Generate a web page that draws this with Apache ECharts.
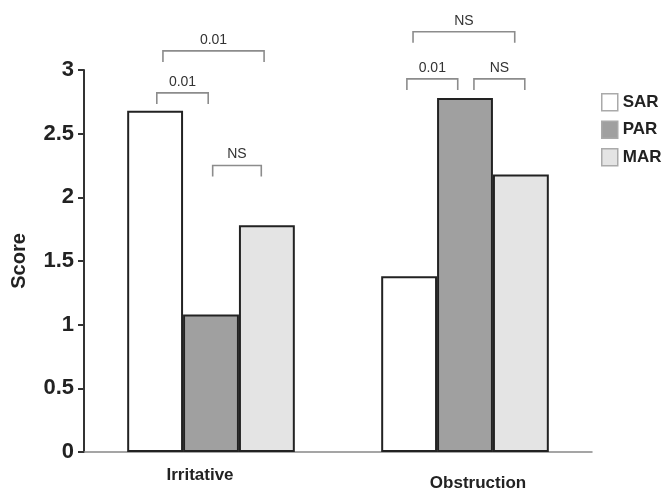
<!DOCTYPE html>
<html>
<head>
<meta charset="utf-8">
<script src="https://cdn.jsdelivr.net/npm/echarts@6/dist/echarts.min.js"></script>
<style>html,body{margin:0;padding:0;background:#fff}#c{width:666px;height:492px}</style>
</head>
<body>
<div id="c"></div>
<script>
const categories = ['Irritative', 'Obstruction'];
const seriesNames = ['SAR', 'PAR', 'MAR'];
const sarValues = [2.68, 1.38];
const parValues = [1.08, 2.78];
const marValues = [1.78, 2.18];
const yTicks = [0, 0.5, 1, 1.5, 2, 2.5, 3];

// significance brackets: category index, from bar index, to bar index, y value, label
const bracketCat = [0, 0, 0, 1, 1, 1];
const bracketFrom = [0.03, 0.14, 1.03, -0.04, 1.16, 0.07];
const bracketTo = [0.95, 1.95, 1.9, 0.87, 2.07, 1.89];
const bracketY = [2.82, 3.15, 2.25, 2.93, 2.93, 3.30];
const bracketText = ['0.01', '0.01', 'NS', '0.01', 'NS', 'NS'];

const GAP = 0.34;
const colors = ['#ffffff', '#a0a0a0', '#e4e4e4'];
const font = 'Liberation Sans, Arial, sans-serif';

const chart = echarts.init(document.getElementById('c'), null, {renderer: 'canvas'});

const bracketData = bracketCat.map((c, i) => [c, bracketFrom[i], bracketTo[i], bracketY[i]]);

function renderBracket(params, api) {
  const cat = api.value(0);
  const p = api.coord([cat, api.value(3)]);
  const band = api.size([1, 0])[0];
  const barW = band * (1 - GAP) / 3;
  const x1 = p[0] + (api.value(1) - 1) * barW;
  const x2 = p[0] + (api.value(2) - 1) * barW;
  const y = p[1];
  const leg = 11;
  return {
    type: 'group',
    children: [
      {type: 'polyline', shape: {points: [[x1, y + leg], [x1, y], [x2, y], [x2, y + leg]]},
       style: {stroke: '#8c8c8c', lineWidth: 1.6, fill: null}},
      {type: 'text', x: (x1 + x2) / 2, y: y - 11,
       style: {text: bracketText[params.dataIndex], fill: '#333', font: '14px ' + font,
               textAlign: 'center', textVerticalAlign: 'middle'}}
    ]
  };
}

const barStyle = (i) => ({color: colors[i], borderColor: '#222', borderWidth: 2});

chart.setOption({
  animation: false,
  backgroundColor: '#fff',
  grid: {left: 84, right: 74, top: 70, bottom: 32, containLabel: false},
  legend: {
    orient: 'vertical', left: 596, top: 88, itemWidth: 16, itemHeight: 17, itemGap: 9,
    icon: 'rect',
    data: seriesNames.map((n, i) => ({name: n, itemStyle: {color: colors[i], borderColor: '#aaa', borderWidth: 1.5}})),
    textStyle: {fontFamily: font, fontSize: 17, fontWeight: 'bold', color: '#222', padding: [0, 0, 0, 0]}
  },
  xAxis: {
    type: 'category', data: categories,
    axisLine: {lineStyle: {color: '#888', width: 1.5}},
    axisTick: {show: false},
    axisLabel: {
      margin: 15,
      formatter: (v, i) => i === 0 ? '{a|' + v + '}' : '{b|' + v + '}',
      rich: {
        a: {fontFamily: font, fontSize: 17, fontWeight: 'bold', color: '#222', padding: [0, 22, 0, 0]},
        b: {fontFamily: font, fontSize: 17, fontWeight: 'bold', color: '#222', padding: [8, 0, 0, 26]}
      }
    }
  },
  yAxis: {
    type: 'value', min: 0, max: 3, interval: 0.5,
    name: 'Score', nameLocation: 'middle', nameGap: 55,
    nameTextStyle: {fontFamily: font, fontSize: 20, fontWeight: 'bold', color: '#222'},
    axisLine: {show: true, lineStyle: {color: '#333', width: 2}},
    axisTick: {show: true, length: 6, lineStyle: {color: '#333', width: 2}},
    axisLabel: {fontFamily: font, fontSize: 22, fontWeight: 'bold', color: '#222', margin: 10,
                formatter: (v) => yTicks.includes(v) ? String(v) : ''},
    splitLine: {show: false}
  },
  series: [
    {name: 'SAR', type: 'bar', data: sarValues, barGap: '0%', barCategoryGap: (GAP * 100) + '%', itemStyle: barStyle(0)},
    {name: 'PAR', type: 'bar', data: parValues, barGap: '0%', barCategoryGap: (GAP * 100) + '%', itemStyle: barStyle(1)},
    {name: 'MAR', type: 'bar', data: marValues, barGap: '0%', barCategoryGap: (GAP * 100) + '%', itemStyle: barStyle(2)},
    {type: 'custom', data: bracketData, renderItem: renderBracket, clip: false, silent: true,
     encode: {x: 0, y: 3}, z: 5}
  ]
});
</script>
</body>
</html>
